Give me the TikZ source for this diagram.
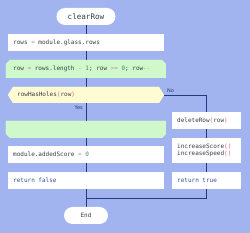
\documentclass[tikz,border=0pt]{standalone}
\usepackage{fontspec}
\setmonofont{DejaVu Sans Mono}
\setsansfont{DejaVu Sans}
\definecolor{bgc}{HTML}{A2B4EF}
\definecolor{linec}{HTML}{233A7C}
\definecolor{greenc}{HTML}{CFF9CB}
\definecolor{yellowc}{HTML}{FFFBD2}
\definecolor{txtc}{HTML}{3A3A48}
\definecolor{opc}{HTML}{C98A9A}
\definecolor{parc}{HTML}{E0606A}
\definecolor{kwc}{HTML}{3B4F96}
\definecolor{numc}{HTML}{4C8A5A}
\newcommand\opx[1]{{\color{opc}#1}}
\newcommand\parx[1]{{\color{parc}#1}}
\newcommand\kwx[1]{{\color{kwc}#1}}
\newcommand\numx[1]{{\color{numc}#1}}
\tikzset{
  codebox/.style={fill=white, draw=none, rectangle, inner sep=0pt},
  pill/.style={fill=white, draw=none, rectangle, rounded corners=8.5pt, inner sep=0pt, minimum height=17pt},
  codetxt/.style={anchor=west, inner sep=0pt, font=\ttfamily\fontsize{6}{7.2}\selectfont, text=txtc, align=left},
  flow/.style={draw=linec, line width=0.9pt},
  lbl/.style={inner sep=0pt, font=\sffamily\fontsize{5}{6}\selectfont, text=linec},
  anchorbox/.style={inner sep=0pt, draw=none, fill=none},
}
\begin{document}
\begin{tikzpicture}[x=1pt,y=1pt]
\fill[bgc] (0,0) rectangle (250,-233);
\useasboundingbox (0,0) rectangle (250,-233);
% shapes drawn directly (chamfered loop bands, hexagon decision)
\fill[greenc] (6,-78) -- (6,-64) -- (10,-60) -- (162,-60) -- (166,-64) -- (166,-78) -- cycle;
\fill[greenc] (6,-121) -- (6,-134) -- (10,-138) -- (162,-138) -- (166,-134) -- (166,-121) -- cycle;
\fill[yellowc] (8,-95) -- (13,-87) -- (159,-87) -- (164,-95) -- (159,-103) -- (13,-103) -- cycle;
% named nodes
\node[anchorbox, minimum width=59pt, minimum height=17pt] (start) at (86,-16.5) {};
\node[anchorbox, minimum width=44pt, minimum height=17pt] (end) at (86,-215.5) {};
\node[anchorbox, minimum width=160pt, minimum height=18pt] (loop) at (86,-69) {};
\node[anchorbox, minimum width=156pt, minimum height=16pt] (dec) at (86,-95) {};
\node[anchorbox, minimum width=160pt, minimum height=17pt] (loopend) at (86,-129.5) {};
\node[anchorbox, minimum width=69pt, minimum height=17pt] (r1) at (206.5,-120.5) {};
\node[anchorbox, minimum width=69pt, minimum height=17pt] (r3) at (206.5,-180.5) {};
\coordinate (jl) at (86,-198);
% connectors (behind boxes)
\draw[flow] (start.center) -- (end.center);
\draw[flow] (dec.east) -| (r1.center);
\draw[flow] (r1.center) -- (r3.center) |- (jl);
% start
\node[pill, minimum width=59pt] (startbox) at (start) {};
\node[inner sep=0pt, font=\ttfamily\fontsize{7.6}{9}\selectfont, text=txtc] (starttxt) at (start.center) {clearRow};
% rows = module.glass.rows
\node[codebox, minimum width=156pt, minimum height=17pt] (b1) at (86,-42.5) {};
\node[codetxt] (b1t) at (13,-42.5) {rows \opx{=} module.glass.rows};
% loop start (redraw over trunk)
\fill[greenc] (6,-78) -- (6,-64) -- (10,-60) -- (162,-60) -- (166,-64) -- (166,-78) -- cycle;
\node[codetxt] (loopt) at (13,-69) {row \opx{=} rows.length \opx{-} \numx{1}; row \opx{>=} \numx{0}; row\opx{--}};
% decision
\fill[yellowc] (8,-95) -- (13,-87) -- (159,-87) -- (164,-95) -- (159,-103) -- (13,-103) -- cycle;
\node[codetxt] (dect) at (17,-95) {rowHasHoles\parx{(}row\parx{)}};
\node[lbl, anchor=south west] (no) at (167,-93) {No};
\node[lbl, anchor=east] (yes) at (83,-107.5) {Yes};
% loop end
\fill[greenc] (6,-121) -- (6,-134) -- (10,-138) -- (162,-138) -- (166,-134) -- (166,-121) -- cycle;
% module.addedScore = 0
\node[codebox, minimum width=156pt, minimum height=17pt] (b2) at (86,-154.5) {};
\node[codetxt] (b2t) at (13,-154.5) {module.addedScore \opx{=} \numx{0}};
% return false
\node[codebox, minimum width=156pt, minimum height=17pt] (b3) at (86,-180.5) {};
\node[codetxt, text=kwc] (b3t) at (13,-180.5) {return false};
% right column
\node[codebox, minimum width=69pt, minimum height=17pt] (r1box) at (r1) {};
\node[codetxt] (r1t) at (177,-120.5) {deleteRow\parx{(}row\parx{)}};
\node[codebox, minimum width=69pt, minimum height=25pt] (r2) at (206.5,-150.5) {};
\node[codetxt] (r2t) at (177,-150.5) {increaseScore\parx{()}\\increaseSpeed\parx{()}};
\node[codebox, minimum width=69pt, minimum height=17pt] (r3box) at (r3) {};
\node[codetxt, text=kwc] (r3t) at (177,-180.5) {return true};
% end
\node[pill, minimum width=44pt] (endbox) at (end) {};
\node[inner sep=0pt, font=\ttfamily\fontsize{6}{7}\selectfont, text=txtc] (endt) at (end.center) {End};
\end{tikzpicture}
\end{document}
